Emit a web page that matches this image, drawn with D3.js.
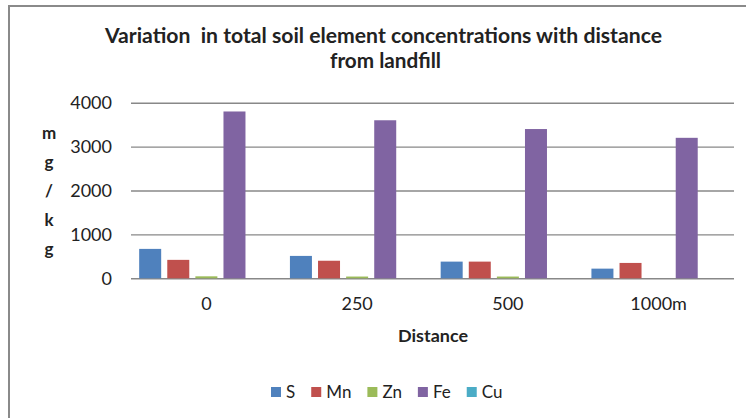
<!DOCTYPE html>
<html>
<head>
<meta charset="utf-8">
<script src="https://cdn.jsdelivr.net/npm/d3@7"></script>
<style>
  html, body { margin: 0; padding: 0; background: #fff; }
  svg { display: block; }
  text { font-family: Lato, "Noto Sans", sans-serif; fill: #222; }
</style>
</head>
<body>
<svg id="chart" width="746" height="418"></svg>
<script>
// Distances from the landfill (x categories)
const distances = ["0", "250", "500", "1000m"];
// Elements measured at each distance
const elements = ["S", "Mn", "Zn", "Fe", "Cu"];
// Concentrations in mg/kg, one array per element, ordered like distances
const sValues  = [670, 510, 380, 220];
const mnValues = [420, 400, 380, 350];
const znValues = [45, 40, 40, 0];
const feValues = [3800, 3600, 3400, 3200];
const cuValues = [0, 0, 0, 0];
// Y axis ticks
const yTicks = [0, 1000, 2000, 3000, 4000];
const colors = ["#4F81BD", "#C0504D", "#9BBB59", "#8064A2", "#4BACC6"];

const seriesValues = [sValues, mnValues, znValues, feValues, cuValues];
const rows = distances.map((d, i) => ({
  distance: d,
  values: elements.map((e, j) => ({ element: e, value: seriesValues[j][i] }))
}));

const svg = d3.select("#chart");

// Outer chart frame
svg.append("rect")
  .attr("x", 9).attr("y", 6)
  .attr("width", 760).attr("height", 430)
  .attr("fill", "none")
  .attr("stroke", "#8a8a8a")
  .attr("stroke-width", 2);

const plot = { left: 131, right: 734, top: 102.7, bottom: 278.3 };

const x = d3.scaleBand()
  .domain(distances)
  .range([plot.left, plot.right])
  .padding(0);

const xInner = d3.scaleBand()
  .domain(elements)
  .range([0, x.bandwidth()])
  .paddingInner(0.217)
  .paddingOuter(0.291);

const y = d3.scaleLinear()
  .domain([0, 4000])
  .range([plot.bottom, plot.top]);

const color = d3.scaleOrdinal().domain(elements).range(colors);

// Y axis with gridlines
const yAxis = svg.append("g")
  .attr("transform", `translate(${plot.left},0)`)
  .call(d3.axisLeft(y)
    .tickValues(yTicks)
    .tickFormat(d3.format("d"))
    .tickSize(-(plot.right - plot.left))
    .tickPadding(19));
yAxis.select(".domain").remove();
yAxis.selectAll(".tick line").attr("stroke", "#888").attr("stroke-width", 1.4);
yAxis.selectAll(".tick text")
  .attr("font-size", 18)
  .attr("fill", "#222")
  .style("font-family", "Lato, 'Noto Sans', sans-serif");

// Bars
const groups = svg.append("g").selectAll("g")
  .data(rows)
  .join("g")
  .attr("transform", d => `translate(${x(d.distance)},0)`);

groups.selectAll("rect")
  .data(d => d.values)
  .join("rect")
  .attr("x", d => xInner(d.element))
  .attr("width", xInner.bandwidth())
  .attr("y", d => y(d.value))
  .attr("height", d => y(0) - y(d.value))
  .attr("fill", d => color(d.element));

// Category axis labels
const xAxis = svg.append("g")
  .attr("transform", `translate(0,${plot.bottom})`)
  .call(d3.axisBottom(x).tickSize(0).tickPadding(19));
xAxis.select(".domain").remove();
xAxis.selectAll(".tick text")
  .attr("font-size", 18)
  .attr("fill", "#222")
  .style("font-family", "Lato, 'Noto Sans', sans-serif");

// Title (keeps the double space after "Variation")
svg.append("text")
  .attr("x", 105).attr("y", 43)
  .attr("font-size", 21).attr("font-weight", "bold")
  .attr("textLength", 557).attr("lengthAdjust", "spacingAndGlyphs")
  .style("white-space", "pre")
  .text("Variation  in total soil element concentrations with distance");
svg.append("text")
  .attr("x", 330).attr("y", 68)
  .attr("font-size", 21).attr("font-weight", "bold")
  .attr("textLength", 111).attr("lengthAdjust", "spacingAndGlyphs")
  .text("from landfill");

// X axis title
svg.append("text")
  .attr("x", 398).attr("y", 342)
  .attr("font-size", 17).attr("font-weight", "bold")
  .attr("textLength", 70).attr("lengthAdjust", "spacingAndGlyphs")
  .text("Distance");

// Y axis title, letters stacked
const yTitle = ["m", "g", "/", "k", "g"];
svg.append("g").selectAll("text")
  .data(yTitle)
  .join("text")
  .attr("x", 49)
  .attr("y", (d, i) => 139 + i * 29)
  .attr("text-anchor", "middle")
  .attr("font-size", 17)
  .attr("font-weight", "bold")
  .text(d => d);

// Legend
const legend = svg.append("g").attr("transform", "translate(271,392)");
let lx = 0;
elements.forEach(e => {
  const item = legend.append("g").attr("transform", `translate(${lx},0)`);
  item.append("rect")
    .attr("x", 0).attr("y", -5)
    .attr("width", 10).attr("height", 10)
    .attr("fill", color(e));
  const t = item.append("text")
    .attr("x", 15).attr("y", 6)
    .attr("font-size", 17)
    .text(e);
  lx += 15 + t.node().getComputedTextLength() + 16;
});
</script>
</body>
</html>
